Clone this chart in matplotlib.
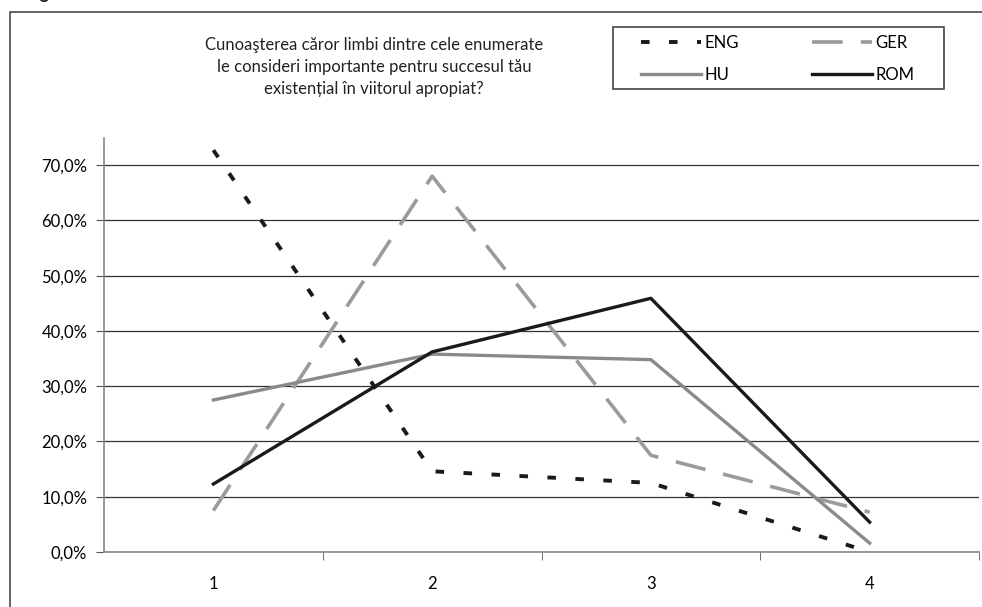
import numpy as np
import matplotlib.pyplot as plt
from matplotlib.patches import Rectangle

# date
categorii = [1, 2, 3, 4]
eng = [0.727, 0.146, 0.125, 0.0]
ger = [0.075, 0.680, 0.175, 0.072]
hu = [0.275, 0.358, 0.348, 0.016]
rom = [0.123, 0.362, 0.459, 0.054]
yticks = [0.0, 0.1, 0.2, 0.3, 0.4, 0.5, 0.6, 0.7]
titlu = ('Cunoaşterea căror limbi dintre cele enumerate\n'
         'le consideri importante pentru succesul tău\n'
         'existențial în viitorul apropiat?')

plt.rcParams['font.family'] = ['Lato', 'DejaVu Sans']

fig = plt.figure(figsize=(9.82, 6.07), dpi=100)
W, H = 982, 607
ax = fig.add_axes([104 / W, 1 - 552 / H, (979 - 104) / W, (552 - 138) / H])

# cadrul paginii
fig.patches.append(Rectangle((10 / W, -0.2), 1.2, 0.2 + 1 - 12 / H, transform=fig.transFigure,
                             fill=False, edgecolor='#3a3a3a', linewidth=1.1))
fig.text(12 / W, 1 + 1 / H, 'Diagrama nr. 7', fontsize=13, fontweight='bold',
         va='baseline', color='#222222')

# liniile
l_eng, = ax.plot(categorii, eng, color='#1a1a1a', linewidth=2.8, dashes=(2.2, 5.0),
                 dash_capstyle='butt', label='ENG')
l_ger, = ax.plot(categorii, ger, color='#9b9b9b', linewidth=2.6, dashes=(8.5, 5.0),
                 dash_capstyle='butt', label='GER')
l_hu, = ax.plot(categorii, hu, color='#8a8a8a', linewidth=2.4, label='HU')
l_rom, = ax.plot(categorii, rom, color='#1a1a1a', linewidth=2.4, label='ROM')

ax.set_xlim(0.5, 4.5)
ax.set_ylim(0, 0.749)
ax.set_yticks(yticks)
ax.set_yticklabels([('%.1f%%' % (v * 100)).replace('.', ',') for v in yticks])
ax.set_xticks(categorii)
ax.set_xticks([1.5, 2.5, 3.5, 4.5], minor=True)
ax.tick_params(axis='x', which='major', length=0, pad=17, labelsize=12)
ax.tick_params(axis='x', which='minor', length=6, color='#555555', direction='out')
ax.tick_params(axis='y', length=6, color='#555555', labelsize=12, pad=6)

ax.grid(axis='y', color='#333333', linewidth=0.9)
ax.set_axisbelow(True)
for s in ['top', 'right']:
    ax.spines[s].set_visible(False)
ax.spines['left'].set_color('#888888')
ax.spines['bottom'].set_color('#888888')
ax.spines['left'].set_linewidth(1.2)
ax.spines['bottom'].set_linewidth(1.2)

fig.text(374 / W, 1 - 67 / H, titlu, ha='center', va='center', multialignment='center',
         fontsize=12, linespacing=1.45, color='#222222')

# legenda: rama desenata separat
fig.patches.append(Rectangle((613 / W, 1 - 89 / H), (944 - 613) / W, 62 / H,
                             transform=fig.transFigure, fill=False,
                             edgecolor='#444444', linewidth=1.2))
leg = fig.legend([l_eng, l_hu, l_ger, l_rom], ['ENG', 'HU', 'GER', 'ROM'],
                 loc='upper left', bbox_to_anchor=(641 / W, 1 - 35 / H), ncol=2,
                 fontsize=12, handlelength=3.6, handletextpad=0.2, columnspacing=4.4,
                 borderpad=0, labelspacing=0.95, frameon=False, borderaxespad=0)

fig.savefig('out.png', dpi=100)
